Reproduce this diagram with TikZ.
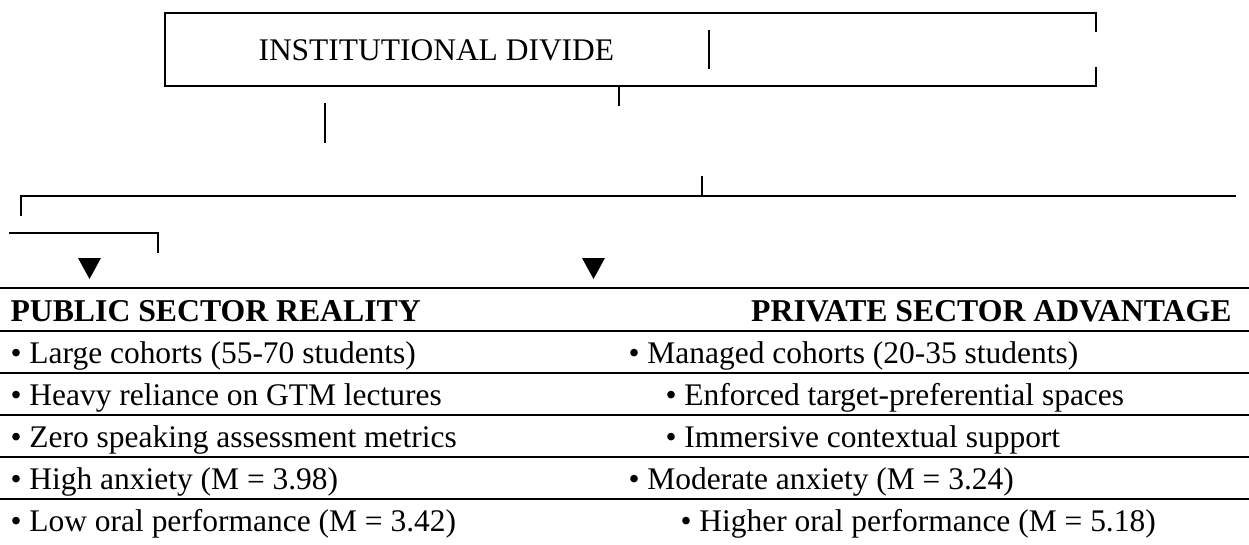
\documentclass[tikz,border=0pt]{standalone}
\usepackage{fontspec}
\setmainfont{Liberation Serif}
\begin{document}
\begin{tikzpicture}[x=0.375pt,y=-0.375pt,
  ln/.style={line width=0.75pt, line cap=rect},
  rowline/.style={line width=0.75pt},
  txt/.style={inner sep=0pt, anchor=base west, font=\fontsize{11.8}{14}\selectfont},
  hdr/.style={inner sep=0pt, font=\fontsize{11.9}{14}\selectfont\bfseries},
  tri/.style={fill=black, draw=none}]
\useasboundingbox (0,0) rectangle (1249,544);
% title box (right edge open in the middle)
\coordinate (bRTa) at (1096,31);
\coordinate (bTR) at (1096,12.5);
\coordinate (bTL) at (165,12.5);
\coordinate (bBL) at (165,86);
\coordinate (bBR) at (1096,86);
\coordinate (bRBa) at (1096,68);
\draw[ln] (bRTa) -- (bTR) -- (bTL) -- (bBL) -- (bBR) -- (bRBa);
\node[txt] (title) at (258,60) {INSTITUTIONAL DIVIDE};
% bar inside box
\coordinate (barT) at (709,31);
\coordinate (barB) at (709,68);
\draw[ln] (barT) -- (barB);
% tick under box
\coordinate (tkT) at (619,86);
\coordinate (tkB) at (619,105);
\draw[ln] (tkT) -- (tkB);
% loose vertical
\coordinate (vT) at (325,104);
\coordinate (vB) at (325,142);
\draw[ln] (vT) -- (vB);
% long horizontal with up tick and left drop
\coordinate (hL) at (21,196);
\coordinate (hLd) at (21,215);
\coordinate (hR) at (1235,196);
\coordinate (hM) at (702,196);
\coordinate (hMt) at (702,177);
\draw[ln] (hLd) -- (hL) -- (hR);
\draw[ln] (hM) -- (hMt);
% short horizontal
\coordinate (sL) at (10,233);
\coordinate (sR) at (158,233);
\coordinate (sRd) at (158,252);
\draw[ln] (sL) -- (sR) -- (sRd);
% triangles
\fill[tri] (78,258) -- (101,258) -- (89.5,279) -- cycle;
\fill[tri] (582,258) -- (605,258) -- (593.5,279) -- cycle;
% table lines
\foreach \yy in {288,331,373,415,457,499} {
  \draw[rowline] (0,\yy) -- (1249,\yy);
}
% header
\node[hdr, anchor=base west] (pubh) at (10,321) {PUBLIC SECTOR REALITY};
\node[hdr, anchor=base east] (privh) at (1232,321) {PRIVATE SECTOR ADVANTAGE};
% left column
\node[txt] (p1) at (10,363) {\textbullet\ Large cohorts (55-70 students)};
\node[txt] (p2) at (10,405) {\textbullet\ Heavy reliance on GTM lectures};
\node[txt] (p3) at (10,447) {\textbullet\ Zero speaking assessment metrics};
\node[txt] (p4) at (10,489) {\textbullet\ High anxiety (M = 3.98)};
\node[txt] (p5) at (10,531) {\textbullet\ Low oral performance (M = 3.42)};
% right column
\node[txt] (q1) at (628,363) {\textbullet\ Managed cohorts (20-35 students)};
\node[txt] (q2) at (665,405) {\textbullet\ Enforced target-preferential spaces};
\node[txt] (q3) at (665,447) {\textbullet\ Immersive contextual support};
\node[txt] (q4) at (628,489) {\textbullet\ Moderate anxiety (M = 3.24)};
\node[txt] (q5) at (680,531) {\textbullet\ Higher oral performance (M = 5.18)};
\end{tikzpicture}
\end{document}
